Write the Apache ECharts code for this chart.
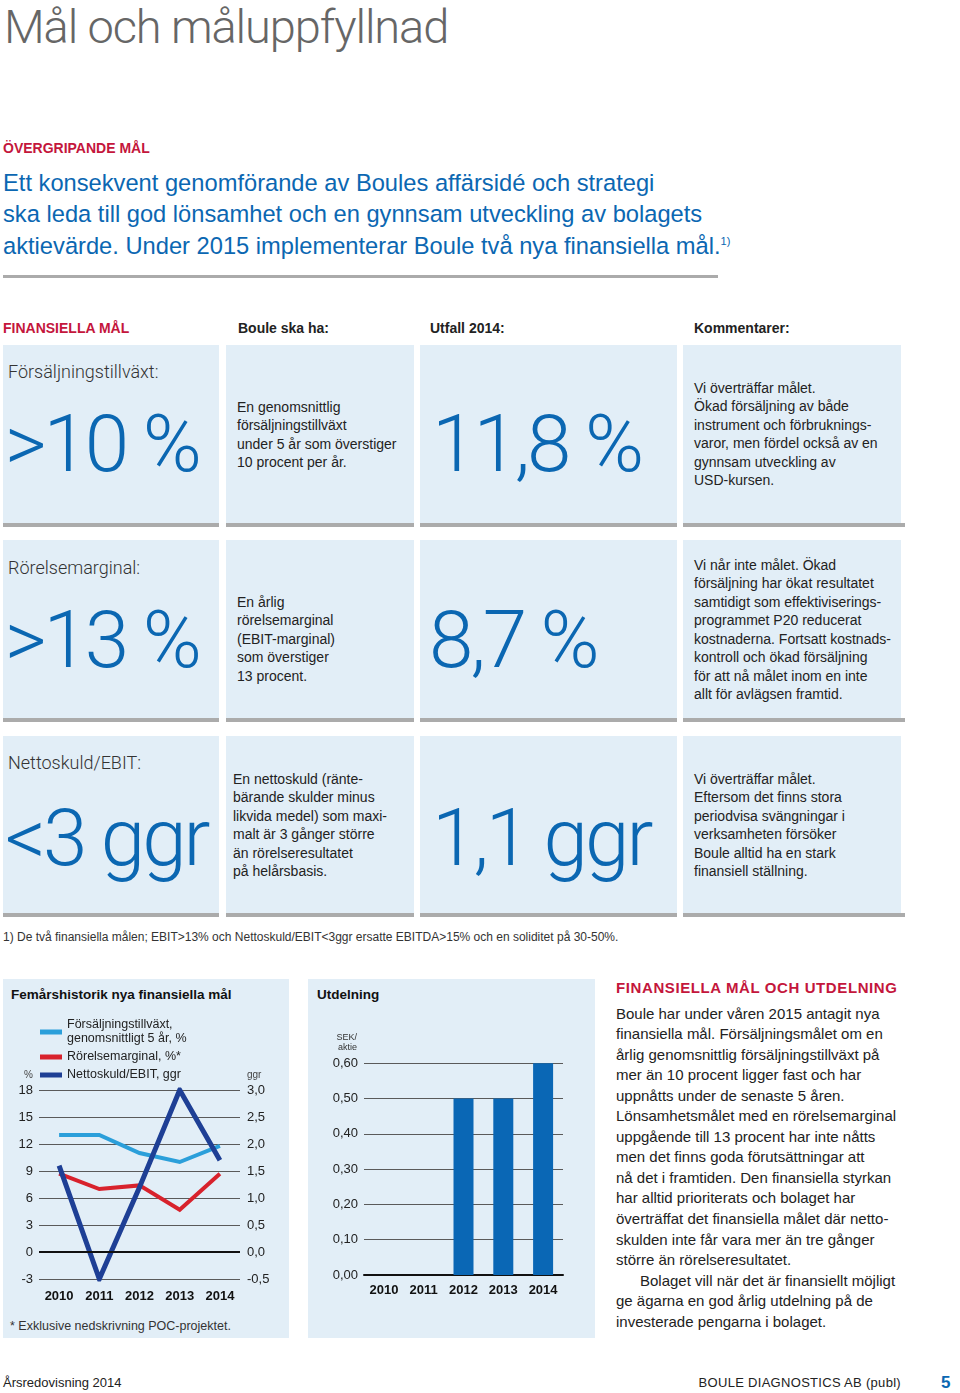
<!DOCTYPE html>
<html>
<head>
<meta charset="utf-8">
<script src="https://cdn.jsdelivr.net/npm/echarts@6/dist/echarts.min.js"></script>
<style>
  html, body { margin:0; padding:0; background:#fff; }
  body { width:960px; height:1393px; position:relative; overflow:hidden; font-family:"Liberation Sans", Arial, sans-serif; color:#222; }
  .a { position:absolute; white-space:nowrap; }
  .box { position:absolute; background:#e2eef7; }
  .bar { position:absolute; background:#ababab; height:4px; }
  .red { color:#c4163c; font-weight:bold; }
  .blue { color:#0b67b2; }
  .light { font-family:Roboto, "Liberation Sans", sans-serif; font-weight:300; }
  .big { font-family:Roboto, "Liberation Sans", sans-serif; font-weight:300; color:#0b67b2; font-size:80px; line-height:90px; letter-spacing:-3px; }
  .lbl { font-family:Roboto, "Liberation Sans", sans-serif; font-weight:300; font-size:18px; line-height:24px; color:#333; }
  .t14 { font-size:14px; line-height:18.5px; color:#222; }
  .hdr { font-size:14px; line-height:18px; font-weight:bold; color:#222; }
  sup { font-size:11px; line-height:0; vertical-align:9px; }
</style>
</head>
<body>
<div class="a light" style="left:4px; top:-1px; font-size:47px; line-height:56px; color:#666; letter-spacing:-1.1px;">Mål och måluppfyllnad</div>

<div class="a red" style="left:3px; top:139px; font-size:14px; line-height:18px;">ÖVERGRIPANDE MÅL</div>
<div class="a blue" style="left:3px; top:167.5px; font-size:23.7px; line-height:31.5px;">Ett konsekvent genomförande av Boules affärsidé och strategi<br>ska leda till god lönsamhet och en gynnsam utveckling av bolagets<br>aktievärde. Under 2015 implementerar Boule två nya finansiella mål.<sup>1)</sup></div>
<div style="position:absolute; left:3px; top:275px; width:715px; height:3px; background:#ababab;"></div>

<div class="a red" style="left:3px; top:319px; font-size:14px; line-height:18px;">FINANSIELLA MÅL</div>
<div class="a hdr" style="left:238px; top:319px;">Boule ska ha:</div>
<div class="a hdr" style="left:430px; top:319px;">Utfall 2014:</div>
<div class="a hdr" style="left:694px; top:319px;">Kommentarer:</div>

<!-- row 1 -->
<div class="box" style="left:3px; top:345px; width:216px; height:178px;"></div>
<div class="box" style="left:226px; top:345px; width:188px; height:178px;"></div>
<div class="box" style="left:420px; top:345px; width:257px; height:178px;"></div>
<div class="box" style="left:683px; top:345px; width:218px; height:178px;"></div>
<div class="bar" style="left:3px; top:523px; width:216px;"></div>
<div class="bar" style="left:226px; top:523px; width:188px;"></div>
<div class="bar" style="left:420px; top:523px; width:257px;"></div>
<div class="bar" style="left:683px; top:523px; width:222px;"></div>
<div class="a lbl" style="left:8px; top:360px;">Försäljningstillväxt:</div>
<div class="a big" style="left:5px; top:399px;">&gt;10 %</div>
<div class="a t14" style="left:237px; top:397.75px;">En genomsnittlig<br>försäljningstillväxt<br>under 5 år som överstiger<br>10 procent per år.</div>
<div class="a big" style="left:432px; top:399px;">11,8 %</div>
<div class="a t14" style="left:694px; top:378.75px;">Vi överträffar målet.<br>Ökad försäljning av både<br>instrument och förbruknings-<br>varor, men fördel också av en<br>gynnsam utveckling av<br>USD-kursen.</div>

<!-- row 2 -->
<div class="box" style="left:3px; top:540px; width:216px; height:178px;"></div>
<div class="box" style="left:226px; top:540px; width:188px; height:178px;"></div>
<div class="box" style="left:420px; top:540px; width:257px; height:178px;"></div>
<div class="box" style="left:683px; top:540px; width:218px; height:178px;"></div>
<div class="bar" style="left:3px; top:718px; width:216px;"></div>
<div class="bar" style="left:226px; top:718px; width:188px;"></div>
<div class="bar" style="left:420px; top:718px; width:257px;"></div>
<div class="bar" style="left:683px; top:718px; width:222px;"></div>
<div class="a lbl" style="left:8px; top:556px;">Rörelsemarginal:</div>
<div class="a big" style="left:5px; top:595px;">&gt;13 %</div>
<div class="a t14" style="left:237px; top:592.75px;">En årlig<br>rörelsemarginal<br>(EBIT-marginal)<br>som överstiger<br>13 procent.</div>
<div class="a big" style="left:429px; top:595px;">8,7 %</div>
<div class="a t14" style="left:694px; top:555.75px;">Vi når inte målet. Ökad<br>försäljning har ökat resultatet<br>samtidigt som effektiviserings-<br>programmet P20 reducerat<br>kostnaderna. Fortsatt kostnads-<br>kontroll och ökad försäljning<br>för att nå målet inom en inte<br>allt för avlägsen framtid.</div>

<!-- row 3 -->
<div class="box" style="left:3px; top:736px; width:216px; height:177px;"></div>
<div class="box" style="left:226px; top:736px; width:188px; height:177px;"></div>
<div class="box" style="left:420px; top:736px; width:257px; height:177px;"></div>
<div class="box" style="left:683px; top:736px; width:218px; height:177px;"></div>
<div class="bar" style="left:3px; top:913px; width:216px;"></div>
<div class="bar" style="left:226px; top:913px; width:188px;"></div>
<div class="bar" style="left:420px; top:913px; width:257px;"></div>
<div class="bar" style="left:683px; top:913px; width:222px;"></div>
<div class="a lbl" style="left:8px; top:751px;">Nettoskuld/EBIT:</div>
<div class="a big" style="left:5px; top:793px;">&lt;3 ggr</div>
<div class="a t14" style="left:233px; top:769.75px;">En nettoskuld (ränte-<br>bärande skulder minus<br>likvida medel) som maxi-<br>malt är 3 gånger större<br>än rörelseresultatet<br>på helårsbasis.</div>
<div class="a big" style="left:432px; top:793px;">1,1 ggr</div>
<div class="a t14" style="left:694px; top:769.75px;">Vi överträffar målet.<br>Eftersom det finns stora<br>periodvisa svängningar i<br>verksamheten försöker<br>Boule alltid ha en stark<br>finansiell ställning.</div>

<div class="a" style="left:3px; top:929px; font-size:12px; line-height:16px; color:#333;">1) De två finansiella målen; EBIT&gt;13% och Nettoskuld/EBIT&lt;3ggr ersatte EBITDA&gt;15% och en soliditet på 30-50%.</div>

<!-- bottom chart boxes -->
<div class="box" style="left:3px; top:979px; width:286px; height:359px;"></div>
<div class="box" style="left:308px; top:979px; width:287px; height:359px;"></div>
<div class="a" style="left:11px; top:986px; font-size:13.5px; line-height:18px; font-weight:bold; color:#111;">Femårshistorik nya finansiella mål</div>
<div class="a" style="left:317px; top:986px; font-size:13.5px; line-height:18px; font-weight:bold; color:#111;">Utdelning</div>
<div class="a" style="left:10px; top:1318px; font-size:12.5px; line-height:16px; color:#333;">* Exklusive nedskrivning POC-projektet.</div>

<div id="chart" style="position:absolute; left:0; top:975px; width:600px; height:370px;"></div>

<!-- right column -->
<div class="a red" style="left:616px; top:979px; font-size:15px; line-height:18px; letter-spacing:0.6px;">FINANSIELLA MÅL OCH UTDELNING</div>
<div class="a" style="left:616px; top:1003.7px; font-size:15px; line-height:20.53px; color:#222;">Boule har under våren 2015 antagit nya<br>finansiella mål. Försäljningsmålet om en<br>årlig genomsnittlig försäljningstillväxt på<br>mer än 10 procent ligger fast och har<br>uppnåtts under de senaste 5 åren.<br>Lönsamhetsmålet med en rörelsemarginal<br>uppgående till 13 procent har inte nåtts<br>men det finns goda förutsättningar att<br>nå det i framtiden. Den finansiella styrkan<br>har alltid prioriterats och bolaget har<br>överträffat det finansiella målet där netto-<br>skulden inte får vara mer än tre gånger<br>större än rörelseresultatet.<br><span style="padding-left:24px;">Bolaget vill när det är finansiellt möjligt</span><br>ge ägarna en god årlig utdelning på de<br>investerade pengarna i bolaget.</div>

<!-- footer -->
<div class="a" style="left:3px; top:1375px; font-size:13px; line-height:16px; color:#222;">Årsredovisning 2014</div>
<div class="a" style="right:59px; top:1375px; font-size:13px; line-height:16px; color:#222; letter-spacing:0.3px;">BOULE DIAGNOSTICS AB (publ)</div>
<div class="a" style="left:941px; top:1373px; font-size:17px; line-height:20px; font-weight:bold; color:#0b67b2;">5</div>

<script>
// ---- data ----
const years = ['2010', '2011', '2012', '2013', '2014'];
const salesGrowth = [13, 13, 11, 10, 11.8];          // %, 5-year average
const ebitMargin = [8.7, 7.0, 7.4, 4.7, 8.7];        // %
const netDebtEbit = [1.6, -0.5, 1.2, 3.0, 1.7];      // ggr
const dividend = [0, 0, 0.50, 0.50, 0.60];           // SEK/aktie
const seriesNames = ['Försäljningstillväxt,\ngenomsnittligt 5 år, %', 'Rörelsemarginal, %*', 'Nettoskuld/EBIT, ggr'];

const font = '"Liberation Sans", Arial, sans-serif';
const comma = (v, d) => v.toFixed(d).replace('.', ',');

const chart = echarts.init(document.getElementById('chart'), null, { renderer: 'canvas' });
chart.setOption({
  backgroundColor: 'transparent',
  animation: false,
  textStyle: { fontFamily: font },
  legend: {
    orient: 'vertical', left: 40, top: 43, padding: 0, itemWidth: 22, itemHeight: 5, itemGap: 4,
    icon: 'rect',
    textStyle: { fontSize: 12.5, color: '#222', lineHeight: 14, fontFamily: font },
    data: seriesNames
  },
  grid: [
    { left: 39, right: 360, top: 115, bottom: 66 },
    { left: 364, right: 37, top: 88.3, bottom: 70 }
  ],
  xAxis: [
    { type: 'category', gridIndex: 0, data: years, boundaryGap: true,
      axisLine: { show: false }, axisTick: { show: false },
      axisLabel: { margin: 11, fontSize: 13, fontWeight: 'bold', color: '#111', fontFamily: font } },
    { type: 'category', gridIndex: 1, data: years, boundaryGap: true,
      axisLine: { show: true, lineStyle: { color: '#111', width: 2 } }, axisTick: { show: false },
      axisLabel: { margin: 9, fontSize: 13, fontWeight: 'bold', color: '#111', fontFamily: font } }
  ],
  yAxis: [
    { type: 'value', gridIndex: 0, min: -3, max: 18, interval: 3, position: 'left',
      name: '%', nameLocation: 'end', nameGap: 10,
      nameTextStyle: { fontSize: 10, color: '#444', align: 'right', padding: [0, 6, 0, 0] },
      axisLine: { show: false }, axisTick: { show: false },
      splitLine: { lineStyle: { color: '#5a5a5a', width: 1 } },
      axisLabel: { margin: 6, fontSize: 13, color: '#222', fontFamily: font } },
    { type: 'value', gridIndex: 0, min: -0.5, max: 3, interval: 0.5, position: 'right',
      name: 'ggr', nameLocation: 'end', nameGap: 10,
      nameTextStyle: { fontSize: 10, color: '#444', align: 'left', padding: [0, 0, 0, 7] },
      axisLine: { show: false }, axisTick: { show: false }, splitLine: { show: false },
      axisLabel: { margin: 7, fontSize: 13, color: '#222', fontFamily: font, formatter: v => comma(v, 1) } },
    { type: 'value', gridIndex: 1, min: 0, max: 0.6, interval: 0.1,
      name: 'SEK/\naktie', nameLocation: 'end', nameGap: 11,
      nameTextStyle: { fontSize: 9, color: '#333', align: 'right', lineHeight: 10, padding: [0, 7, 0, 0] },
      axisLine: { show: false }, axisTick: { show: false },
      splitLine: { lineStyle: { color: '#5a5a5a', width: 1 } },
      axisLabel: { margin: 6, fontSize: 13, color: '#222', fontFamily: font, formatter: v => comma(v, 2) } }
  ],
  series: [
    { name: seriesNames[0], type: 'line', xAxisIndex: 0, yAxisIndex: 0, data: salesGrowth,
      symbol: 'none', lineStyle: { color: '#2b9fda', width: 4, join: 'miter' }, itemStyle: { color: '#2b9fda' },
      markLine: { silent: true, symbol: 'none', label: { show: false },
        lineStyle: { color: '#111', width: 2, type: 'solid' }, data: [{ yAxis: 0 }] } },
    { name: seriesNames[1], type: 'line', xAxisIndex: 0, yAxisIndex: 0, data: ebitMargin,
      symbol: 'none', lineStyle: { color: '#d8222c', width: 4, join: 'miter' }, itemStyle: { color: '#d8222c' } },
    { name: seriesNames[2], type: 'line', xAxisIndex: 0, yAxisIndex: 1, data: netDebtEbit,
      symbol: 'none', lineStyle: { color: '#1e3f95', width: 5, join: 'miter' }, itemStyle: { color: '#1e3f95' } },
    { name: 'Utdelning', type: 'bar', xAxisIndex: 1, yAxisIndex: 2, data: dividend,
      barWidth: 20, itemStyle: { color: '#0a67b5' } }
  ]
});
</script>
</body>
</html>
